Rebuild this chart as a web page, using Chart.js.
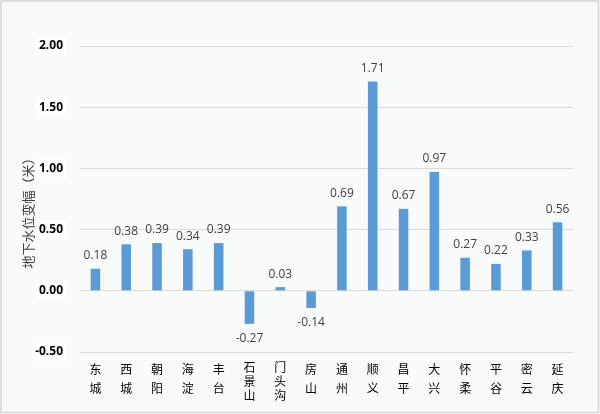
<!DOCTYPE html>
<html>
<head>
<meta charset="utf-8">
<script src="https://cdn.jsdelivr.net/npm/chart.js@4/dist/chart.umd.min.js"></script>
<style>
html,body{margin:0;padding:0;background:#fff;}
#wrap{width:600px;height:414px;position:relative;}
</style>
</head>
<body>
<div id="wrap"><canvas id="c" width="600" height="414"></canvas></div>
<script>
const categories = ["东城","西城","朝阳","海淀","丰台","石景山","门头沟","房山","通州","顺义","昌平","大兴","怀柔","平谷","密云","延庆"];
const values = [0.18,0.38,0.39,0.34,0.39,-0.27,0.03,-0.14,0.69,1.71,0.67,0.97,0.27,0.22,0.33,0.56];
const yTicks = [-0.5,0,0.5,1.0,1.5,2.0];
const yTitle = "地下水位变幅（米）";

const labels = categories.map(s => s.split(""));

const decor = {
  id: 'decor',
  beforeDraw(chart) {
    const ctx = chart.ctx;
    ctx.save();
    ctx.fillStyle = '#f9fafa';
    ctx.fillRect(0, 0, chart.width, chart.height);
    ctx.strokeStyle = '#d4d4d4';
    ctx.lineWidth = 1.5;
    ctx.strokeRect(1, 1, chart.width - 2.5, chart.height - 2.5);
    const ys = chart.scales.y;
    ctx.font = 'bold 12px "Open Sans"';
    ctx.fillStyle = '#ffffff';
    ys.ticks.forEach((t, i) => {
      const py = ys.getPixelForTick(i);
      const w = ctx.measureText(Number(t.value).toFixed(2)).width;
      const right = chart.chartArea.left - 13;
      ctx.fillRect(right - w - 7, py - 9, w + 7, 18);
    });
    ctx.restore();
  },
  afterDatasetsDraw(chart) {
    const ctx = chart.ctx;
    const meta = chart.getDatasetMeta(0);
    ctx.save();
    ctx.font = '12px "Open Sans"';
    ctx.fillStyle = '#404040';
    ctx.textAlign = 'center';
    ctx.textBaseline = 'middle';
    meta.data.forEach((bar, i) => {
      const v = values[i];
      const y = v >= 0 ? bar.y - 13 : bar.y + 15;
      ctx.fillText(v.toFixed(2), bar.x, y);
    });
    ctx.font = '13px "Noto Sans CJK SC"';
    ctx.fillStyle = '#404040';
    ctx.translate(28, 210);
    ctx.rotate(-Math.PI / 2);
    ctx.fillText(yTitle, 0, 0);
    ctx.restore();
  }
};

new Chart(document.getElementById('c'), {
  type: 'bar',
  data: {
    labels: labels,
    datasets: [{
      data: values,
      backgroundColor: '#5b9bd5',
      borderWidth: 0,
      barPercentage: 0.62,
      categoryPercentage: 0.5
    }]
  },
  options: {
    responsive: false,
    animation: false,
    devicePixelRatio: 1,
    layout: { padding: { top: 46, right: 27, bottom: 0, left: 0 } },
    plugins: { legend: { display: false }, tooltip: { enabled: false } },
    scales: {
      x: {
        grid: { display: false, drawTicks: false },
        border: { display: false },
        ticks: {
          color: '#000',
          padding: 8,
          maxRotation: 0,
          autoSkip: false,
          font: (ctx) => {
            const n = categories[ctx.index] ? categories[ctx.index].length : 2;
            return { family: '"Noto Sans CJK SC"', size: 12, lineHeight: n > 2 ? '14px' : '19px' };
          }
        },
        afterFit(scale) { scale.height = 62; }
      },
      y: {
        min: -0.5,
        max: 2.0,
        afterBuildTicks(scale) { scale.ticks = yTicks.map(v => ({ value: v })); },
        grid: { color: '#d9d9d9', lineWidth: 1, drawTicks: false },
        border: { display: false },
        ticks: {
          color: '#000',
          padding: 17,
          font: { family: '"Open Sans"', size: 12, weight: 'bold' },
          callback: (v) => Number(v).toFixed(2)
        },
        afterFit(scale) { scale.width = 80; }
      }
    }
  },
  plugins: [decor]
});
</script>
</body>
</html>
